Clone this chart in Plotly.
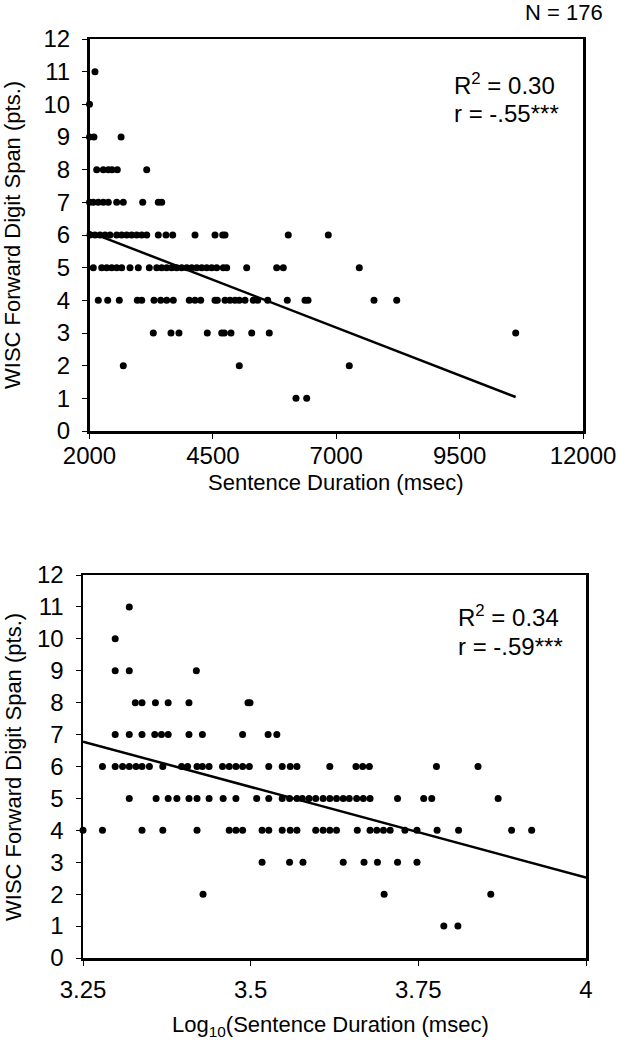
import plotly.graph_objects as go

W, H = 619, 1050

# ---------------- DATA ----------------
# Top panel: sentence duration (msec) vs WISC forward digit span
top_duration = [
    2111,                                   # 11
    2000,                                   # 10
    2000, 2090, 2640,                       # 9
    2146, 2280, 2381, 2456, 2563, 3159,     # 8
    2000, 2077, 2178, 2280, 2381, 2551, 2685, 3078, 3394, 3463,   # 7
    2010, 2111, 2213, 2314, 2415, 2551, 2652, 2754, 2855, 2956, 3058, 3159,
    3394, 3550, 3686, 4138, 4543, 4699, 4746, 6028, 6839,         # 6
    2077, 2247, 2349, 2450, 2551, 2652, 2821, 2989, 3212, 3362, 3463, 3564,
    3666, 3767, 3868, 3970, 4071, 4172, 4274, 4375, 4476, 4577, 4711, 4780,
    5185, 5793, 5927, 7467,                                       # 5
    2178, 2369, 2604, 2969, 3058, 3307, 3443, 3564, 3698, 4022, 4138, 4253,
    4543, 4590, 4746, 4847, 4948, 5035, 5151, 5319, 5408, 5611, 6008, 6367,
    6428, 7765, 8225,                                             # 4
    3293, 3651, 3813, 4387, 4679, 4732, 4867, 5287, 5643, 10636,  # 3
    2685, 5035, 7264,                       # 2
    6184, 6401,                             # 1
]
top_span = (
    [11] * 1 + [10] * 1 + [9] * 3 + [8] * 6 + [7] * 10 + [6] * 21 +
    [5] * 28 + [4] * 27 + [3] * 10 + [2] * 3 + [1] * 2
)

# Bottom panel: log10 sentence duration vs WISC forward digit span
bot_logdur = [
    3.319,                                                         # 11
    3.298,                                                         # 10
    3.298, 3.319, 3.419,                                           # 9
    3.328, 3.338, 3.358, 3.377, 3.408, 3.496, 3.499,               # 8
    3.298, 3.319, 3.338, 3.357, 3.367, 3.377, 3.408, 3.428, 3.488,
    3.526, 3.539,                                                  # 7
    3.279, 3.298, 3.309, 3.319, 3.329, 3.338, 3.349, 3.369, 3.397, 3.406,
    3.420, 3.428, 3.438, 3.458, 3.468, 3.478, 3.488, 3.498, 3.527, 3.547,
    3.559, 3.569, 3.618, 3.657, 3.667, 3.677, 3.777, 3.839,        # 6
    3.319, 3.359, 3.377, 3.390, 3.408, 3.420, 3.438, 3.459, 3.478, 3.509,
    3.527, 3.547, 3.558, 3.569, 3.577, 3.587, 3.597, 3.608, 3.618, 3.628,
    3.638, 3.647, 3.658, 3.668, 3.678, 3.719, 3.758, 3.770, 3.869, # 5
    3.250, 3.279, 3.338, 3.369, 3.420, 3.468, 3.478, 3.488, 3.517, 3.527,
    3.547, 3.559, 3.569, 3.597, 3.608, 3.618, 3.628, 3.659, 3.678, 3.688,
    3.698, 3.708, 3.730, 3.748, 3.778, 3.810, 3.889, 3.919,        # 4
    3.517, 3.558, 3.578, 3.638, 3.669, 3.689, 3.719, 3.748,        # 3
    3.429, 3.699, 3.858,                                           # 2
    3.788, 3.809,                                                  # 1
]
bot_span = (
    [11] * 1 + [10] * 1 + [9] * 3 + [8] * 7 + [7] * 11 + [6] * 28 +
    [5] * 29 + [4] * 28 + [3] * 8 + [2] * 3 + [1] * 2
)

# Linear trend lines (end points)
top_trend_x = [2000, 10636]
top_trend_y = [6.09, 1.04]
bot_trend_x = [3.25, 4.0]
bot_trend_y = [6.78, 2.52]

top_xticks = [2000, 4500, 7000, 9500, 12000]
top_xticklabels = ["2000", "4500", "7000", "9500", "12000"]
bot_xticks = [3.25, 3.5, 3.75, 4]
bot_xticklabels = ["3.25", "3.5", "3.75", "4"]
y_ticks = list(range(0, 13))
y_ticklabels = [str(v) for v in y_ticks]

# ---------------- LAYOUT helpers ----------------
def fx(p):
    return p / W

def fy(p):
    return 1 - p / H

FONT = "Liberation Sans, Arial, sans-serif"
TICKFONT = dict(family=FONT, size=24, color="black")

fig = go.Figure()

fig.add_trace(go.Scatter(x=top_duration, y=top_span, mode="markers",
                         marker=dict(size=7, color="black"),
                         cliponaxis=False, xaxis="x", yaxis="y",
                         showlegend=False))
fig.add_trace(go.Scatter(x=top_trend_x, y=top_trend_y, mode="lines",
                         line=dict(color="black", width=2.5),
                         xaxis="x", yaxis="y", showlegend=False))
fig.add_trace(go.Scatter(x=bot_logdur, y=bot_span, mode="markers",
                         marker=dict(size=7, color="black"),
                         cliponaxis=False, xaxis="x2", yaxis="y2",
                         showlegend=False))
fig.add_trace(go.Scatter(x=bot_trend_x, y=bot_trend_y, mode="lines",
                         line=dict(color="black", width=2.5),
                         xaxis="x2", yaxis="y2", showlegend=False))

axis_common = dict(showline=True, linecolor="black", linewidth=2.5,
                   mirror=True, showgrid=False, zeroline=False,
                   ticks="outside", ticklen=5, tickwidth=1,
                   tickcolor="black", tickfont=TICKFONT, automargin=False,
                   tickmode="array")

fig.update_layout(
    width=W, height=H,
    margin=dict(l=0, r=0, t=0, b=0),
    paper_bgcolor="white", plot_bgcolor="white",
    font=dict(family=FONT, color="black"),
    xaxis=dict(domain=[fx(89.5), fx(583)], range=[2000, 12000],
               tickvals=top_xticks, ticktext=top_xticklabels,
               ticklabelstandoff=-3, anchor="y", **axis_common),
    yaxis=dict(domain=[fy(431), fy(39)], range=[0, 12],
               tickvals=y_ticks, ticktext=y_ticklabels,
               ticklabelstandoff=7, anchor="x", **axis_common),
    xaxis2=dict(domain=[fx(83), fx(586)], range=[3.25, 4],
                tickvals=bot_xticks, ticktext=bot_xticklabels,
                ticklabelstandoff=4, anchor="y2", **axis_common),
    yaxis2=dict(domain=[fy(958), fy(575)], range=[0, 12],
                tickvals=y_ticks, ticktext=y_ticklabels,
                ticklabelstandoff=7, anchor="x2", **axis_common),
)

def note(text, x, y, size=22, xanchor="center", angle=0):
    fig.add_annotation(text=text, x=fx(x), y=fy(y), xref="paper",
                       yref="paper", showarrow=False, xanchor=xanchor,
                       yanchor="middle", textangle=angle,
                       font=dict(family=FONT, size=size, color="black"))

note("N = 176", 605, 12, size=22, xanchor="right")
note("R<sup>2</sup> = 0.30", 452, 84, size=24, xanchor="left")
note("r = -.55***", 452, 113, size=24, xanchor="left")
note("R<sup>2</sup> = 0.34", 456, 616, size=24, xanchor="left")
note("r = -.59***", 456, 646, size=24, xanchor="left")
note("WISC Forward Digit Span (pts.)", 13, 235, size=22, angle=-90)
note("WISC Forward Digit Span (pts.)", 13, 767, size=22, angle=-90)
note("Sentence Duration (msec)", 336, 482, size=22)
note("Log<sub>10</sub>(Sentence Duration (msec)", 330, 1026, size=22)

fig.write_html(
    "out.html",
    config={"displayModeBar": False, "staticPlot": True},
    post_script="document.body.style.margin='0';"
                "document.body.style.padding='0';"
                "document.body.style.overflow='hidden';",
)
